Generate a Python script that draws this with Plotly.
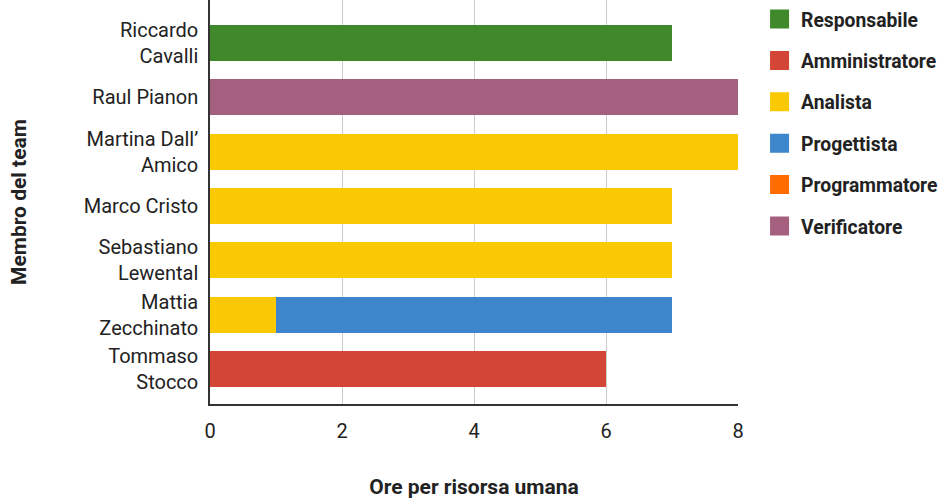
import plotly.graph_objects as go

members = ["Tommaso<br>Stocco", "Mattia<br>Zecchinato", "Sebastiano<br>Lewental",
           "Marco Cristo", "Martina Dall’<br>Amico", "Raul Pianon", "Riccardo<br>Cavalli"]
roles = ["Responsabile", "Amministratore", "Analista", "Progettista", "Programmatore", "Verificatore"]
colors = ["#40892a", "#d34535", "#fbc903", "#3e86cb", "#ff6d01", "#a6607f"]

responsabile = [0, 0, 0, 0, 0, 0, 7]
amministratore = [6, 0, 0, 0, 0, 0, 0]
analista = [0, 1, 7, 7, 8, 0, 0]
progettista = [0, 6, 0, 0, 0, 0, 0]
programmatore = [0, 0, 0, 0, 0, 0, 0]
verificatore = [0, 0, 0, 0, 0, 8, 0]
values = [responsabile, amministratore, analista, progettista, programmatore, verificatore]

x_ticks = [0, 2, 4, 6, 8]

fig = go.Figure()
for role, col, vals in zip(roles, colors, values):
    fig.add_trace(go.Bar(
        y=members, x=vals, orientation="h", name=role,
        marker=dict(color=col, line=dict(width=0)),
        showlegend=False,
    ))
for role, col in zip(roles, colors):
    fig.add_trace(go.Scatter(
        x=[None], y=[None], mode="markers", name=role,
        marker=dict(symbol="square", size=16, color=col, line=dict(color=col, width=3)),
        legendgroup=role, showlegend=True,
    ))

fig.update_layout(
    barmode="stack",
    bargap=0.34,
    width=949, height=503,
    margin=dict(l=210, r=211, t=0, b=99),
    paper_bgcolor="white", plot_bgcolor="white",
    font=dict(family="Roboto", size=20, color="#222222"),
    legend=dict(
        x=1.038, y=1.0, xanchor="left", yanchor="top",
        traceorder="grouped", tracegroupgap=13.3,
        font=dict(family="Roboto", size=19.3, color="#222222", weight="bold"),
        itemwidth=33,
    ),
    xaxis=dict(
        range=[0, 8], tickvals=x_ticks, showgrid=True, gridcolor="#cccccc", gridwidth=1,
        zeroline=False, showline=True, linecolor="#333333", linewidth=1.5,
        ticks="", ticklabelstandoff=8,
        title=dict(text="<b>Ore per risorsa umana</b>", standoff=38,
                   font=dict(family="Roboto", size=21, color="#222222")),
        tickfont=dict(size=20, color="#222222"),
    ),
    yaxis=dict(
        range=[-0.645, 6.79], showgrid=False, zeroline=False,
        showline=True, linecolor="#333333", linewidth=1.5, ticks="",
        ticklabelstandoff=6,
        title=dict(text="<b>Membro del team</b>", standoff=51,
                   font=dict(family="Roboto", size=21, color="#222222")),
        tickfont=dict(size=20, color="#222222"),
    ),
)

fig.write_html("out.html", config={"displayModeBar": False},
               post_script="document.body.style.margin='0';")
